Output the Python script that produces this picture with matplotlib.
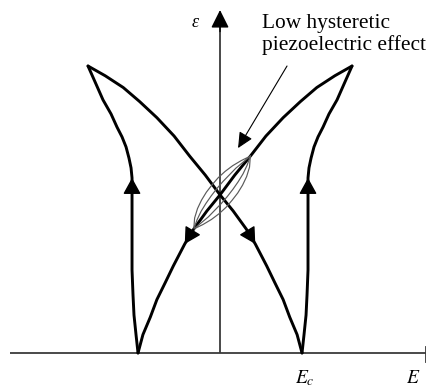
import matplotlib.pyplot as plt
import numpy as np

plt.rcParams['font.family'] = ['Liberation Serif', 'DejaVu Serif']
plt.rcParams['mathtext.fontset'] = 'stix'

# field in units of Ec, strain in units of its maximum value
# descending branch: from +Emax down to the foot at -Ec
e_down = np.array([1.61, 1.40, 1.18, 0.98, 0.77, 0.56, 0.37, 0.18, 0.0,
                   -0.16, -0.32, -0.43, -0.57, -0.67, -0.77, -0.85, -0.94, -1.0])
s_down = np.array([1.0, 0.966, 0.925, 0.876, 0.820, 0.756, 0.686, 0.620, 0.551,
                   0.495, 0.432, 0.380, 0.303, 0.244, 0.186, 0.125, 0.064, 0.0])
# switching branch: from the foot at +Ec back up to +Emax
e_up = np.array([1.0, 1.024, 1.049, 1.061, 1.073, 1.073, 1.073, 1.073, 1.073,
                 1.085, 1.110, 1.146, 1.195, 1.256, 1.329, 1.427, 1.512, 1.61])
s_up = np.array([0.0, 0.063, 0.132, 0.202, 0.289, 0.394, 0.498, 0.561, 0.610,
                 0.645, 0.679, 0.718, 0.753, 0.787, 0.833, 0.882, 0.937, 1.0])

# small-signal loop: offsets across the loop (fraction of its length)
loop_t = np.array([0, .1, .2, .3, .4, .5, .6, .7, .8, .9, 1])
loop_outer = np.array([0, .066, .104, .126, .137, .137, .132, .115, .088, .049, 0])
loop_inner = np.array([0, .033, .055, .066, .071, .071, .066, .055, .044, .022, 0])

label_lines = ['Low hysteretic', 'piezoelectric effect']

fig = plt.figure(figsize=(4.27, 3.86), dpi=100)
ax = fig.add_axes([0, 0, 1, 1])
ax.set_xlim(-2.683, 2.524)
ax.set_ylim(-0.115, 1.230)
ax.axis('off')

# axes with the arrow on the strain axis
axis_col = '#3a3a3a'
ax.plot([-2.561, 2.512], [0, 0], color=axis_col, lw=1.3, solid_capstyle='butt')
ax.plot([2.512, 2.512], [0.021, -0.031], color=axis_col, lw=1.3)
ax.plot([0, 0], [0, 1.15], color=axis_col, lw=1.3, solid_capstyle='butt')
ax.annotate('', xy=(0, 1.195), xytext=(0, 1.12),
            arrowprops=dict(arrowstyle='-|>,head_length=11,head_width=5.5',
                            mutation_scale=1, lw=1, color='black',
                            shrinkA=0, shrinkB=0))

curve_kw = dict(color='black', lw=2.1, solid_joinstyle='round', solid_capstyle='round')
head = dict(arrowstyle='-|>,head_length=10,head_width=5.5', mutation_scale=1,
            color='black', lw=1, shrinkA=0, shrinkB=0)
for sign in (1, -1):
    ax.plot(sign * e_down, s_down, **curve_kw)
    ax.plot(sign * e_up, s_up, **curve_kw)
    ax.annotate('', xy=(sign * e_down[11], s_down[11]),
                xytext=(sign * e_down[10], s_down[10]), arrowprops=head)
    ax.annotate('', xy=(-sign * e_up[8], s_up[8]),
                xytext=(-sign * e_up[7], s_up[7]), arrowprops=head)

# minor loops spanning the descending branch between two of its points
p0 = ax.transData.transform((e_down[10], s_down[10]))
p1 = ax.transData.transform((e_down[6], s_down[6]))
d = p1 - p0
L = np.hypot(*d)
nrm = np.array([-d[1], d[0]]) / L
inv = ax.transData.inverted()
for off in (loop_outer, loop_inner):
    for side, prof in ((1, off), (-1, off[::-1])):
        pts = p0 + loop_t[:, None] * d + (side * prof * L)[:, None] * nrm
        xy = inv.transform(pts)
        ax.plot(xy[:, 0], xy[:, 1], color='#5a5a5a', lw=0.85)

ax.annotate('', xy=(0.22, 0.714), xytext=(0.817, 1.0),
            arrowprops=dict(arrowstyle='-|>,head_length=9.5,head_width=4.5',
                            mutation_scale=1, color='black', lw=0.8,
                            shrinkA=0, shrinkB=0))

ax.text(0.512, 1.132, label_lines[0], fontsize=15.4, ha='left', va='baseline')
ax.text(0.512, 1.056, label_lines[1], fontsize=15.4, ha='left', va='baseline')

ax.text(-0.305, 1.136, 'ε', fontsize=13, style='italic', ha='center', va='baseline')
ax.text(0.915, -0.105, r'$E_c$', fontsize=14, ha='left', va='baseline')
ax.text(2.36, -0.105, r'$E$', fontsize=14, ha='center', va='baseline')

fig.savefig('out.png', dpi=100)
